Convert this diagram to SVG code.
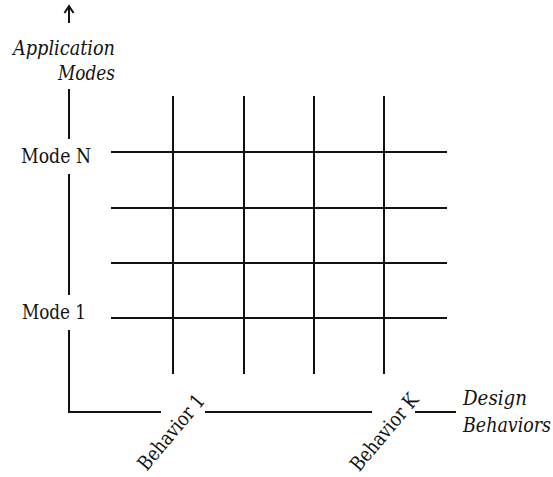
<svg xmlns="http://www.w3.org/2000/svg" width="553" height="477" viewBox="0 0 553 477">
  <defs>
    <style>
      .ln { stroke: #111; stroke-width: 2; fill: none; stroke-linecap: butt; }
      .lbl { font-family: "DejaVu Serif Condensed", "DejaVu Serif", serif; font-stretch: condensed; font-size: 20px; fill: #111; }
      .it { font-style: italic; }
    </style>
  </defs>
  <rect width="553" height="477" fill="#fff"/>

  <!-- axes and grid -->
  <g id="connectors">
    <!-- vertical axis with open arrowhead -->
    <line class="ln" x1="69" y1="7" x2="69" y2="23"/>
    <path class="ln" stroke-width="2.2" d="M64.5 13 L69 6 L73.5 13"/>
    <line class="ln" x1="69" y1="89" x2="69" y2="139"/>
    <line class="ln" x1="69" y1="174" x2="69" y2="295"/>
    <line class="ln" x1="69" y1="330" x2="69" y2="412"/>
    <!-- horizontal axis -->
    <line class="ln" x1="68" y1="412" x2="161" y2="412"/>
    <line class="ln" x1="205" y1="412" x2="372" y2="412"/>
    <line class="ln" x1="415" y1="412" x2="456" y2="412"/>
    <!-- grid: vertical -->
    <line class="ln" x1="173" y1="96" x2="173" y2="374"/>
    <line class="ln" x1="244" y1="96" x2="244" y2="374"/>
    <line class="ln" x1="314" y1="96" x2="314" y2="374"/>
    <line class="ln" x1="384" y1="96" x2="384" y2="374"/>
    <!-- grid: horizontal -->
    <line class="ln" x1="111" y1="152" x2="447" y2="152"/>
    <line class="ln" x1="111" y1="208" x2="447" y2="208"/>
    <line class="ln" x1="111" y1="263" x2="447" y2="263"/>
    <line class="ln" x1="111" y1="318" x2="447" y2="318"/>
  </g>

  <g id="axis-y-label">
    <text class="lbl it" x="13" y="55" textLength="102" lengthAdjust="spacingAndGlyphs">Application</text>
    <text class="lbl it" x="58" y="80" textLength="57" lengthAdjust="spacingAndGlyphs">Modes</text>
  </g>
  <g id="mode-n">
    <text class="lbl" x="21" y="163" textLength="70" lengthAdjust="spacingAndGlyphs">Mode N</text>
  </g>
  <g id="mode-1">
    <text class="lbl" x="22" y="319" textLength="64" lengthAdjust="spacingAndGlyphs">Mode 1</text>
  </g>
  <g id="behavior-1">
    <text class="lbl" transform="translate(171,432) rotate(-50)" x="-46" y="7" textLength="92" lengthAdjust="spacingAndGlyphs">Behavior 1</text>
  </g>
  <g id="behavior-k">
    <text class="lbl" transform="translate(384,432) rotate(-50)" x="-47" y="7" textLength="94" lengthAdjust="spacingAndGlyphs">Behavior K</text>
  </g>
  <g id="axis-x-label">
    <text class="lbl it" x="463" y="405" textLength="64" lengthAdjust="spacingAndGlyphs">Design</text>
    <text class="lbl it" x="463" y="432" textLength="88" lengthAdjust="spacingAndGlyphs">Behaviors</text>
  </g>
</svg>
